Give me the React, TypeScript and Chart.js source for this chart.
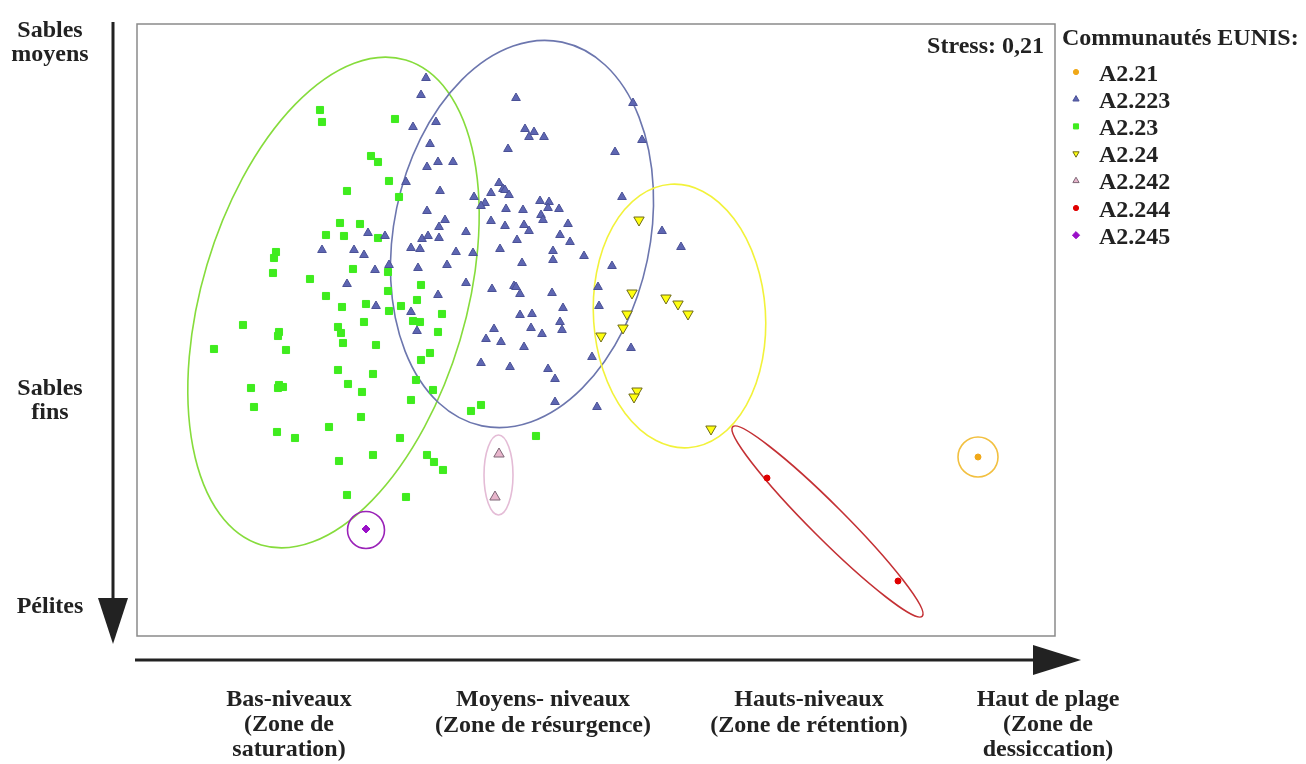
import React, { useEffect, useRef } from 'react';
import { Chart, registerables } from 'chart.js';

Chart.register(...registerables);

const FONT = "'Liberation Serif', 'Times New Roman', serif";

// Community labels (legend order)
const communities = ['A2.21', 'A2.223', 'A2.23', 'A2.24', 'A2.242', 'A2.244', 'A2.245'];

// NMDS ordination scores (arbitrary units, axis 1 = x, axis 2 = y)
const ptsA221: number[][] = [[841, 179]];

const ptsA2223: number[][] = [
  [289, 558], [284, 541], [276, 509], [299, 514], [293, 492], [290, 469], [301, 474], [316, 474],
  [269, 454], [303, 445], [337, 439], [290, 425], [308, 416], [302, 409], [329, 404], [231, 403],
  [248, 400], [285, 397], [291, 400], [302, 398], [185, 386], [217, 386], [227, 381], [274, 388],
  [283, 387], [319, 384], [336, 383], [252, 371], [238, 366], [281, 368], [310, 371], [210, 352],
  [329, 353], [301, 341], [239, 330], [274, 324], [280, 305], [379, 538], [496, 533], [388, 507],
  [397, 504], [392, 499], [407, 499], [505, 496], [371, 487], [478, 484], [362, 453], [366, 447],
  [368, 446], [372, 441], [354, 443], [348, 433], [344, 430], [485, 439], [369, 427], [386, 426],
  [403, 435], [412, 434], [422, 427], [411, 428], [404, 421], [406, 416], [354, 415], [368, 410],
  [387, 411], [392, 405], [431, 412], [525, 405], [423, 401], [380, 396], [433, 394], [363, 387],
  [416, 385], [447, 380], [416, 376], [385, 373], [475, 370], [355, 347], [377, 350], [379, 349],
  [383, 342], [415, 343], [461, 349], [426, 328], [462, 330], [383, 321], [395, 322], [423, 314],
  [425, 306], [357, 307], [349, 297], [394, 308], [405, 302], [364, 294], [387, 289], [494, 288],
  [455, 279], [344, 273], [373, 269], [411, 267], [418, 257], [418, 234], [460, 229], [544, 389],
];

const ptsA223: number[][] = [
  [183, 526], [185, 514], [258, 517], [234, 480], [241, 474], [252, 455], [210, 445], [262, 439],
  [203, 413], [223, 412], [189, 401], [207, 400], [241, 398], [139, 384], [137, 378], [136, 363],
  [173, 357], [216, 367], [251, 364], [284, 351], [189, 340], [251, 345], [280, 336], [229, 332],
  [205, 329], [264, 330], [252, 325], [305, 322], [276, 315], [283, 314], [301, 304], [106, 311],
  [142, 304], [141, 300], [201, 309], [204, 303], [227, 314], [77, 287], [149, 286], [206, 293],
  [239, 291], [293, 283], [284, 276], [201, 266], [236, 262], [114, 248], [142, 251], [146, 249],
  [141, 248], [211, 252], [225, 244], [279, 256], [296, 246], [274, 236], [117, 229], [224, 219],
  [192, 209], [140, 204], [158, 198], [263, 198], [334, 225], [344, 231], [399, 200], [236, 181],
  [202, 175], [290, 181], [297, 174], [306, 166], [210, 141], [269, 139],
];

const ptsA224: number[][] = [
  [502, 416], [495, 343], [529, 338], [541, 332], [551, 322], [490, 322], [486, 308], [464, 300],
  [500, 245], [497, 239], [574, 207],
];

const ptsA2242: number[][] = [[362, 182], [358, 139]];
const ptsA2244: number[][] = [[630, 158], [761, 55]];
const ptsA2245: number[][] = [[229, 107]];

// Confidence ellipses per community: centre, semi-axes, axis angle (deg, counter-clockwise)
const ellipseGroups = ['A2.23', 'A2.223', 'A2.24', 'A2.242', 'A2.244', 'A2.21', 'A2.245'];
const ellipseCx = [196.5, 385, 542.5, 361.5, 690.5, 841, 229];
const ellipseCy = [333.5, 402, 320, 161, 114.5, 179, 106];
const ellipseA = [253, 196, 132, 40, 134, 20, 18.5];
const ellipseB = [132, 128, 86, 14.5, 17, 20, 18.5];
const ellipseAngle = [73.4, 78.2, 93.8, 90, -45, 0, 0];

// Axis range
const xRange = [0, 918];
const yRange = [0, 612];

const stressText = 'Stress: 0,21';
const legendTitle = 'Communautés EUNIS:';

// Styles
const styles: Record<string, any> = {
  'A2.21': { pointStyle: 'circle', radius: 3, fill: '#f0a818', stroke: '#f0a818', rotation: 0, ell: '#f2c040' },
  'A2.223': { pointStyle: 'triangle', radius: 5, fill: '#5e66b2', stroke: '#4a5196', rotation: 0, ell: '#6c76ae' },
  'A2.23': { pointStyle: 'rect', radius: 5, fill: '#3fec1e', stroke: '#3fec1e', rotation: 0, ell: '#86dc3c' },
  'A2.24': { pointStyle: 'triangle', radius: 6, fill: '#ffff10', stroke: '#6e6a1a', rotation: 180, ell: '#f2f23a' },
  'A2.242': { pointStyle: 'triangle', radius: 6, fill: '#e8b6cc', stroke: '#7e6676', rotation: 0, ell: '#e4bcd6' },
  'A2.244': { pointStyle: 'circle', radius: 3, fill: '#e00000', stroke: '#e00000', rotation: 0, ell: '#c43034' },
  'A2.245': { pointStyle: 'rectRot', radius: 4, fill: '#9a10c8', stroke: '#9a10c8', rotation: 0, ell: '#9a22b8' },
};

const seriesPoints = [ptsA221, ptsA2223, ptsA223, ptsA224, ptsA2242, ptsA2244, ptsA2245];

function drawMarker(ctx: CanvasRenderingContext2D, st: any, x: number, y: number, r: number) {
  ctx.save();
  ctx.fillStyle = st.fill;
  ctx.strokeStyle = st.stroke;
  ctx.lineWidth = 1;
  ctx.beginPath();
  if (st.pointStyle === 'circle') {
    ctx.arc(x, y, r, 0, Math.PI * 2);
  } else if (st.pointStyle === 'rect') {
    const s = r * Math.SQRT1_2;
    ctx.rect(x - s, y - s, 2 * s, 2 * s);
  } else if (st.pointStyle === 'rectRot') {
    ctx.moveTo(x, y - r);
    ctx.lineTo(x + r, y);
    ctx.lineTo(x, y + r);
    ctx.lineTo(x - r, y);
    ctx.closePath();
  } else {
    let rad = (st.rotation * Math.PI) / 180;
    for (let k = 0; k < 3; k++) {
      const px = x + Math.sin(rad) * r;
      const py = y - Math.cos(rad) * r;
      if (k === 0) ctx.moveTo(px, py);
      else ctx.lineTo(px, py);
      rad += (2 * Math.PI) / 3;
    }
    ctx.closePath();
  }
  ctx.fill();
  ctx.stroke();
  ctx.restore();
}

const overlayPlugin = {
  id: 'nmdsOverlay',
  beforeDraw(chart: any) {
    const { ctx, width, height } = chart;
    ctx.save();
    ctx.fillStyle = '#ffffff';
    ctx.fillRect(0, 0, width, height);
    ctx.restore();
  },
  beforeDatasetsDraw(chart: any) {
    const { ctx, chartArea, scales } = chart;
    const xs = scales.x;
    const ys = scales.y;
    const ux = Math.abs(xs.getPixelForValue(1) - xs.getPixelForValue(0));
    ctx.save();
    // frame
    ctx.strokeStyle = '#8a8a8a';
    ctx.lineWidth = 1.5;
    ctx.strokeRect(chartArea.left, chartArea.top, chartArea.right - chartArea.left, chartArea.bottom - chartArea.top);
    // ellipses
    ellipseGroups.forEach((g, i) => {
      const cx = xs.getPixelForValue(ellipseCx[i]);
      const cy = ys.getPixelForValue(ellipseCy[i]);
      ctx.beginPath();
      ctx.ellipse(cx, cy, ellipseA[i] * ux, ellipseB[i] * ux, (-ellipseAngle[i] * Math.PI) / 180, 0, Math.PI * 2);
      ctx.strokeStyle = styles[g].ell;
      ctx.lineWidth = 1.6;
      ctx.stroke();
    });
    ctx.restore();
  },
  afterDraw(chart: any) {
    const { ctx } = chart;
    ctx.save();
    const ink = '#222222';
    ctx.fillStyle = ink;
    ctx.strokeStyle = ink;
    // vertical arrow
    ctx.lineWidth = 3;
    ctx.beginPath();
    ctx.moveTo(113, 22);
    ctx.lineTo(113, 602);
    ctx.stroke();
    ctx.beginPath();
    ctx.moveTo(98, 598);
    ctx.lineTo(128, 598);
    ctx.lineTo(113, 644);
    ctx.closePath();
    ctx.fill();
    // horizontal arrow
    ctx.beginPath();
    ctx.moveTo(135, 660);
    ctx.lineTo(1036, 660);
    ctx.stroke();
    ctx.beginPath();
    ctx.moveTo(1033, 645);
    ctx.lineTo(1033, 675);
    ctx.lineTo(1081, 660);
    ctx.closePath();
    ctx.fill();

    ctx.font = `bold 24px ${FONT}`;
    ctx.textBaseline = 'alphabetic';
    ctx.textAlign = 'center';
    const put = (t: string, x: number, y: number) => ctx.fillText(t, x, y);
    // y-axis labels
    put('Sables', 50, 37);
    put('moyens', 50, 61);
    put('Sables', 50, 395);
    put('fins', 50, 419);
    put('Pélites', 50, 613);
    // x-axis labels
    put('Bas-niveaux', 289, 706);
    put('(Zone de', 289, 731);
    put('saturation)', 289, 756);
    put('Moyens- niveaux', 543, 706);
    put('(Zone de résurgence)', 543, 732);
    put('Hauts-niveaux', 809, 706);
    put('(Zone de rétention)', 809, 732);
    put('Haut de plage', 1048, 706);
    put('(Zone de', 1048, 731);
    put('dessiccation)', 1048, 756);
    // stress
    ctx.textAlign = 'right';
    put(stressText, 1044, 53);
    // legend
    ctx.textAlign = 'left';
    put(legendTitle, 1062, 45);
    communities.forEach((c, i) => {
      const cy = 72 + i * 27.2;
      const st = styles[c];
      drawMarker(ctx, st, 1076, cy, st.pointStyle === 'circle' ? 2.6 : 3.6);
      ctx.fillStyle = ink;
      put(c, 1099, cy + 8.5);
    });
    ctx.restore();
  },
};

export default function App() {
  const canvasRef = useRef<HTMLCanvasElement | null>(null);

  useEffect(() => {
    const canvas = canvasRef.current;
    if (!canvas) return;
    const datasets = communities.map((c, i) => {
      const st = styles[c];
      return {
        label: c,
        data: seriesPoints[i].map((p) => ({ x: p[0], y: p[1] })),
        pointStyle: st.pointStyle,
        pointRadius: st.radius,
        pointRotation: st.rotation,
        backgroundColor: st.fill,
        borderColor: st.stroke,
        borderWidth: 1,
        showLine: false,
      };
    });
    const chart = new Chart(canvas, {
      type: 'scatter',
      data: { datasets },
      options: {
        animation: false,
        responsive: false,
        layout: { padding: { left: 137, top: 24, right: 251, bottom: 128 } },
        scales: {
          x: { type: 'linear', min: xRange[0], max: xRange[1], display: false },
          y: { type: 'linear', min: yRange[0], max: yRange[1], display: false },
        },
        plugins: {
          legend: { display: false },
          tooltip: { enabled: false },
        },
      },
      plugins: [overlayPlugin],
    });
    return () => chart.destroy();
  }, []);

  return (
    <div style={{ position: 'absolute', left: 0, top: 0, width: 1306, height: 764, background: '#fff' }}>
      <canvas ref={canvasRef} width={1306} height={764} style={{ display: 'block' }} />
    </div>
  );
}
